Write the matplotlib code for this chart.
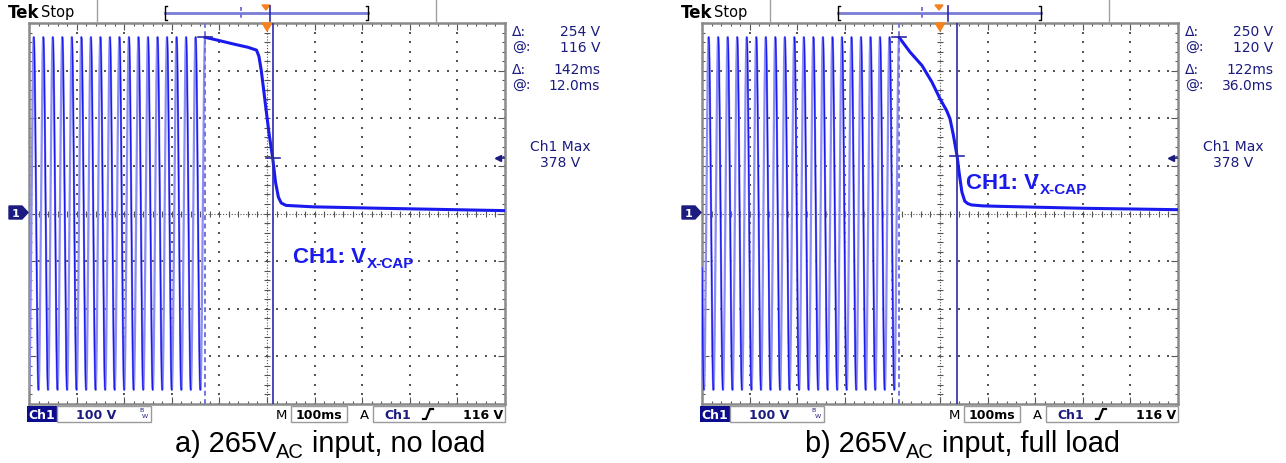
import numpy as np
import matplotlib
matplotlib.use("Agg")
import matplotlib.pyplot as plt
from matplotlib.patches import Rectangle, Polygon

W, H = 1286, 464

# --- values read from the two scope screens (time in ms from trigger, volts) ---
ac_peak_v = 370
ac_freq_hz = 50

a_ac_end_ms = -130
a_decay_ms = [-130, -100, -71, -40, -22, -17, -12, -4, 4, 12, 18, 24, 30, 40, 97, 237, 500]
a_decay_v = [370, 363, 356, 349, 343, 330, 300, 235, 170, 116, 65, 34, 22, 17, 14, 11, 6]
a_cursor_ms, a_cursor_v = 12, 116
a_readout = ["254 V", "116 V", "142ms", "12.0ms"]
a_caption = ["a) 265V", "AC", " input, no load"]

b_ac_end_ms = -86
b_decay_ms = [-86, -63, -38, -17, 0, 14, 21, 28, 36, 40, 46, 52, 58, 66, 90, 126, 300, 500]
b_decay_v = [370, 339, 311, 276, 241, 216, 199, 165, 120, 87, 45, 26, 21, 18, 16, 15, 11, 8]
b_cursor_ms, b_cursor_v = 36, 120
b_readout = ["250 V", "120 V", "122ms", "36.0ms"]
b_caption = ["b) 265V", "AC", " input, full load"]

ch1_max = "378 V"
volts_div = "100 V"
time_div = "100ms"
trig_level = "116 V"
trace_label = ["CH1: V", "X-CAP"]

# colours
TRACE = "#1a1aef"
TRACE_LIGHT = "#8c8cf5"
CURSOR = "#2a2aa8"
CURSOR_DASH = "#7474dc"
NAVY = "#1b1b80"
ORANGE = "#f5821f"
GRIDC = "#555555"

fig = plt.figure(figsize=(W / 100, H / 100), dpi=100)
fig.patch.set_facecolor("white")

ov = fig.add_axes([0, 0, 1, 1], zorder=5)
ov.set_xlim(0, W)
ov.set_ylim(H, 0)
ov.axis("off")
ov.patch.set_alpha(0)


def scope_axes(x0):
    x1, y0, y1 = x0 + 476, 24, 405
    ax = fig.add_axes([x0 / W, 1 - y1 / H, (x1 - x0) / W, (y1 - y0) / H], zorder=2)
    ax.set_xlim(-500, 500)
    ax.set_ylim(-400, 400)
    for s in ax.spines.values():
        s.set_color("#8a8a8a")
        s.set_linewidth(1.8)
    ax.set_xticks(np.arange(-500, 501, 100))
    ax.set_yticks(np.arange(-400, 401, 100))
    ax.set_xticks(np.arange(-500, 501, 20), minor=True)
    ax.set_yticks(np.arange(-400, 401, 20), minor=True)
    ax.tick_params(which="both", direction="in", top=True, right=True,
                   labelbottom=False, labelleft=False, color=GRIDC, width=0.8)
    ax.tick_params(which="major", length=5)
    ax.tick_params(which="minor", length=2.5)
    # graticule dots
    fine_y = np.arange(-400, 401, 20)
    fine_x = np.arange(-500, 501, 20)
    for gx in range(-400, 401, 100):
        if gx != 0:
            ax.scatter(np.full(fine_y.size, gx), fine_y, s=1.0, marker="s",
                       color=GRIDC, linewidths=0, zorder=1)
    for gy in range(-300, 301, 100):
        if gy != 0:
            ax.scatter(fine_x, np.full(fine_x.size, gy), s=1.0, marker="s",
                       color=GRIDC, linewidths=0, zorder=1)
    # centre crosshair with small ticks
    ax.axhline(0, color=GRIDC, lw=0.8, ls=(0, (1, 1.6)), zorder=1)
    ax.axvline(0, color=GRIDC, lw=0.8, ls=(0, (1, 1.6)), zorder=1)
    ax.plot(fine_x, np.zeros(fine_x.size), ls="none", marker="|", ms=4,
            mew=0.8, color=GRIDC, zorder=1)
    ax.plot(np.zeros(fine_y.size), fine_y, ls="none", marker="_", ms=4,
            mew=0.8, color=GRIDC, zorder=1)
    return ax


def draw_panel(dx, ac_end, decay_t, decay_v, cur_t, cur_v, readout, caption,
               cap_x, label_xy, bar_dash_x, bar_line_x):
    ax = scope_axes(29 + dx)

    # AC input until the line is disconnected
    t = np.linspace(-500, ac_end, 6000)
    v = ac_peak_v * np.cos(2 * np.pi * ac_freq_hz * (t - ac_end) / 1000.0)
    falling = np.where(np.gradient(v) < 0, v, np.nan)
    ax.plot(t, v, color=TRACE_LIGHT, lw=1.6, zorder=3)
    ax.plot(t, falling, color=TRACE, lw=1.0, zorder=3)
    # X-cap discharge
    ax.plot(decay_t, decay_v, color=TRACE, lw=2.2, zorder=3, solid_joinstyle="round")

    # cursors
    ax.axvline(ac_end, color=CURSOR_DASH, lw=1.4, ls=(0, (2.5, 1.8)), zorder=4)
    ax.axvline(cur_t, color=CURSOR, lw=1.2, zorder=4)
    ax.plot([ac_end - 15, ac_end + 15], [ac_peak_v, ac_peak_v], color=CURSOR, lw=1.2, zorder=4)
    ax.plot([cur_t - 15, cur_t + 15], [cur_v, cur_v], color=CURSOR, lw=1.2, zorder=4)

    # trigger position and level markers
    ax.add_patch(Polygon([(-10, 400), (10, 400), (0, 383)], closed=True,
                         color=ORANGE, clip_on=False, zorder=6))
    ax.plot([484, 498], [116, 116], color=NAVY, lw=1.2, zorder=5)
    ax.plot(485, 116, marker="<", ms=5, color=NAVY, zorder=5)

    # ground marker "1"
    gx = 9 + dx
    ov.add_patch(Polygon([(gx, 207), (gx + 13, 207), (gx + 19, 213.5),
                          (gx + 13, 220), (gx, 220)], closed=True, color=NAVY))
    ov.text(gx + 7, 213.8, "1", color="white", fontsize=8, fontweight="bold",
            ha="center", va="center", family="DejaVu Sans")

    # top bar
    ov.text(8 + dx, 13, "Tek", fontsize=12, fontweight="bold", va="center",
            ha="left", family="DejaVu Sans", color="black")
    ov.text(41 + dx, 13, "Stop", fontsize=10.5, va="center", ha="left",
            family="DejaVu Sans", color="black")
    for gxl in (97 + dx, 436 + dx):
        ov.plot([gxl, gxl], [0, 22], color="#a0a0a0", lw=1)
    ov.plot([165 + dx, 368 + dx], [14, 14], color="#7b7bd6", lw=2)
    ov.plot([167 + dx, 165 + dx, 165 + dx, 167 + dx], [7, 7, 21, 21], color="black", lw=1)
    ov.plot([366 + dx, 368 + dx, 368 + dx, 366 + dx], [7, 7, 21, 21], color="black", lw=1)
    ov.plot([bar_dash_x, bar_dash_x], [8, 21], color=CURSOR_DASH, lw=1.4, ls=(0, (2, 1.5)))
    ov.add_patch(Polygon([(262 + dx, 6), (270 + dx, 6), (266 + dx, 11)], closed=True, color=ORANGE))
    ov.plot([bar_line_x, bar_line_x], [7, 22], color=CURSOR, lw=1.2)

    # cursor readouts
    rx = 512 + dx
    for yy, sym, val in zip([32, 48, 70, 86], ["Δ:", "@:", "Δ:", "@:"], readout):
        ov.text(rx, yy, sym, color=NAVY, fontsize=10, va="center", ha="left",
                family="DejaVu Sans")
        ov.text(rx + 88, yy, val, color=NAVY, fontsize=10, va="center", ha="right",
                family="DejaVu Sans")
    ov.text(560 + dx, 147, "Ch1 Max", color=NAVY, fontsize=10, va="center",
            ha="center", family="DejaVu Sans")
    ov.text(560 + dx, 163, ch1_max, color=NAVY, fontsize=10, va="center",
            ha="center", family="DejaVu Sans")

    # status bar
    ov.add_patch(Rectangle((27 + dx, 407), 30, 16, facecolor="#0c0c8c", edgecolor="none"))
    ov.text(42 + dx, 415.5, "Ch1", color="white", fontsize=9, fontweight="bold",
            ha="center", va="center", family="DejaVu Sans")
    ov.add_patch(Rectangle((57 + dx, 407), 94, 16, facecolor="white", edgecolor="#9a9a9a", lw=1))
    ov.text(96 + dx, 415.5, volts_div, color=NAVY, fontsize=9, fontweight="bold",
            ha="center", va="center", family="DejaVu Sans")
    ov.text(141 + dx, 411, "B", color=NAVY, fontsize=4.5, ha="center", va="center")
    ov.text(145 + dx, 417, "W", color=NAVY, fontsize=4.5, ha="center", va="center")
    ov.text(281 + dx, 415.5, "M", color="black", fontsize=9.5, ha="center", va="center",
            family="DejaVu Sans")
    ov.add_patch(Rectangle((291 + dx, 407), 56, 16, facecolor="white", edgecolor="#9a9a9a", lw=1))
    ov.text(319 + dx, 415.5, time_div, color="black", fontsize=9, fontweight="bold",
            ha="center", va="center", family="DejaVu Sans")
    ov.text(364 + dx, 415.5, "A", color="black", fontsize=9.5, ha="center", va="center",
            family="DejaVu Sans")
    ov.add_patch(Rectangle((373 + dx, 407), 132, 16, facecolor="white", edgecolor="#9a9a9a", lw=1))
    ov.text(398 + dx, 415.5, "Ch1", color=NAVY, fontsize=9, fontweight="bold",
            ha="center", va="center", family="DejaVu Sans")
    ov.plot([423 + dx, 426 + dx, 430 + dx, 433 + dx], [420, 420, 410, 410], color="black", lw=1.6)
    ov.text(503 + dx, 415.5, trig_level, color="black", fontsize=9, fontweight="bold",
            ha="right", va="center", family="DejaVu Sans")

    # trace label
    t1 = ov.text(label_xy[0], label_xy[1], trace_label[0], color=TRACE, fontsize=16,
                 fontweight="bold", ha="left", va="baseline", family="Liberation Sans")
    ov.annotate(trace_label[1], xy=(1, 0), xycoords=t1, xytext=(0.5, -2.5),
                textcoords="offset points", color=TRACE, fontsize=11, fontweight="bold",
                ha="left", va="bottom", family="Liberation Sans")

    # caption
    c1 = ov.text(cap_x, 452, caption[0], color="black", fontsize=20.8, ha="left",
                 va="baseline", family="Liberation Sans")
    c2 = ov.annotate(caption[1], xy=(1, 0), xycoords=c1, xytext=(0, -3),
                     textcoords="offset points", color="black", fontsize=14.5,
                     ha="left", va="bottom", family="Liberation Sans")
    ov.annotate(caption[2], xy=(1, 0), xycoords=(c2, c1), color="black", fontsize=20.8,
                ha="left", va="bottom", family="Liberation Sans")


draw_panel(0, a_ac_end_ms, a_decay_ms, a_decay_v, a_cursor_ms, a_cursor_v,
           a_readout, a_caption, 175, (293, 263), 241, 270)
draw_panel(673, b_ac_end_ms, b_decay_ms, b_decay_v, b_cursor_ms, b_cursor_v,
           b_readout, b_caption, 805, (966, 189), 922, 948)

fig.savefig("out.png", dpi=100, facecolor="white")
